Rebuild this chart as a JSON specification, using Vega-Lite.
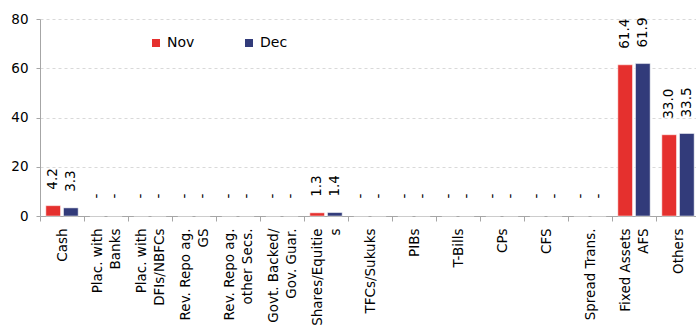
{
  "$schema": "https://vega.github.io/schema/vega-lite/v6.json",
  "width": 660,
  "height": 197,
  "autosize": "none",
  "padding": {"left": 40, "top": 19, "right": 0, "bottom": 109},
  "background": "white",
  "config": {"font": "DejaVu Sans", "view": {"stroke": null}},
  "data": {"values": [
    {"cat": "Cash", "month": "Nov", "value": 4.2},
    {"cat": "Cash", "month": "Dec", "value": 3.3},
    {"cat": "Plac. with|Banks", "month": "Nov", "value": 0},
    {"cat": "Plac. with|Banks", "month": "Dec", "value": 0},
    {"cat": "Plac. with|DFIs/NBFCs", "month": "Nov", "value": 0},
    {"cat": "Plac. with|DFIs/NBFCs", "month": "Dec", "value": 0},
    {"cat": "Rev. Repo ag.|GS", "month": "Nov", "value": 0},
    {"cat": "Rev. Repo ag.|GS", "month": "Dec", "value": 0},
    {"cat": "Rev. Repo ag.|other Secs.", "month": "Nov", "value": 0},
    {"cat": "Rev. Repo ag.|other Secs.", "month": "Dec", "value": 0},
    {"cat": "Govt. Backed/|Gov. Guar.", "month": "Nov", "value": 0},
    {"cat": "Govt. Backed/|Gov. Guar.", "month": "Dec", "value": 0},
    {"cat": "Shares/Equitie|s", "month": "Nov", "value": 1.3},
    {"cat": "Shares/Equitie|s", "month": "Dec", "value": 1.4},
    {"cat": "TFCs/Sukuks", "month": "Nov", "value": 0},
    {"cat": "TFCs/Sukuks", "month": "Dec", "value": 0},
    {"cat": "PIBs", "month": "Nov", "value": 0},
    {"cat": "PIBs", "month": "Dec", "value": 0},
    {"cat": "T-Bills", "month": "Nov", "value": 0},
    {"cat": "T-Bills", "month": "Dec", "value": 0},
    {"cat": "CPs", "month": "Nov", "value": 0},
    {"cat": "CPs", "month": "Dec", "value": 0},
    {"cat": "CFS", "month": "Nov", "value": 0},
    {"cat": "CFS", "month": "Dec", "value": 0},
    {"cat": "Spread Trans.", "month": "Nov", "value": 0},
    {"cat": "Spread Trans.", "month": "Dec", "value": 0},
    {"cat": "Fixed Assets|AFS", "month": "Nov", "value": 61.4},
    {"cat": "Fixed Assets|AFS", "month": "Dec", "value": 61.9},
    {"cat": "Others", "month": "Nov", "value": 33.0},
    {"cat": "Others", "month": "Dec", "value": 33.5}
  ]},
  "transform": [
    {"calculate": "datum.value == 0 ? '-' : format(datum.value, '.1f')", "as": "label"}
  ],
  "encoding": {
    "x": {
      "field": "cat", "type": "nominal", "sort": null,
      "scale": {"paddingInner": 0, "paddingOuter": 0},
      "axis": {
        "title": null,
        "labelAngle": -90,
        "labelAlign": "right",
        "labelBaseline": "middle",
        "labelExpr": "split(datum.label, '|')",
        "labelOffset": {"condition": {"test": "indexof(datum.label, '|') >= 0", "value": -9}, "value": 0},
        "labelLineHeight": 18,
        "labelFontSize": 13.5,
        "labelColor": "#000000",
        "labelPadding": 7,
        "labelLimit": 200,
        "tickBand": "extent",
        "tickSize": 5,
        "tickColor": "#a6a6a6",
        "domainColor": "#a6a6a6",
        "labelOverlap": false
      }
    },
    "xOffset": {
      "field": "month", "type": "nominal", "sort": ["Nov", "Dec"],
      "scale": {"paddingInner": 0.17, "paddingOuter": 0.33}
    },
    "y": {
      "field": "value", "type": "quantitative",
      "scale": {"domain": [0, 80], "nice": false},
      "axis": {
        "title": null,
        "values": [0, 20, 40, 60, 80],
        "labelFontSize": 13.5,
        "labelColor": "#000000",
        "labelPadding": 8,
        "tickSize": 4,
        "tickColor": "#a6a6a6",
        "domainColor": "#a6a6a6",
        "gridColor": "#d9d9d9",
        "gridDash": [3, 3]
      }
    }
  },
  "layer": [
    {
      "mark": {"type": "bar", "stroke": "#ffffff", "strokeWidth": 0.5},
      "encoding": {
        "color": {
          "field": "month", "type": "nominal",
          "scale": {"domain": ["Nov", "Dec"], "range": ["#E5302E", "#323B7A"]},
          "legend": {
            "title": null,
            "orient": "none",
            "legendX": 109,
            "legendY": 17,
            "direction": "horizontal",
            "symbolType": "square",
            "symbolSize": 64,
            "symbolStrokeWidth": 0,
            "labelFontSize": 14,
            "labelColor": "#000000",
            "labelOffset": 4,
            "columnPadding": 47,
            "padding": 0
          }
        }
      }
    },
    {
      "mark": {"type": "text", "angle": -90, "align": "left", "baseline": "middle", "dx": {"expr": "datum.value == 0 ? 17.5 : 16"}, "fontSize": 13.5, "color": "#000000"},
      "encoding": {"text": {"field": "label"}}
    }
  ]
}
